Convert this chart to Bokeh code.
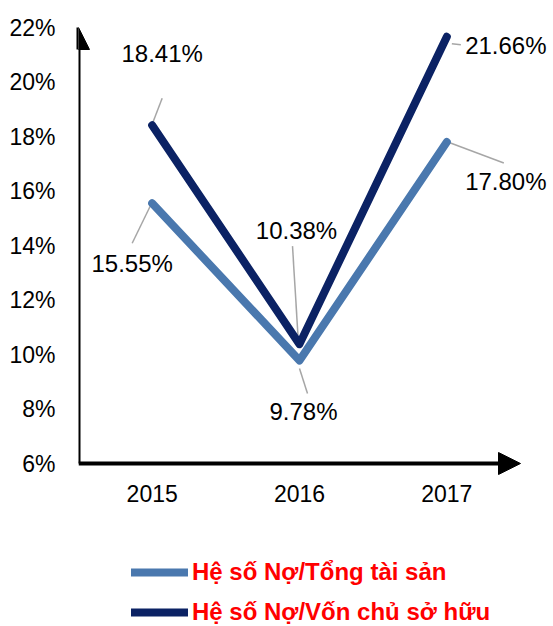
from bokeh.plotting import figure
from bokeh.models import Range1d, Arrow, NormalHead, Legend, LegendItem, FixedTicker, ColumnDataSource
from bokeh.core.properties import value
from bokeh.embed import file_html
from bokeh.resources import INLINE

years = [2015, 2016, 2017]
year_labels = ["2015", "2016", "2017"]
debt_assets = [15.55, 9.78, 17.80]
debt_equity = [18.41, 10.38, 21.66]
name_assets = "Hệ số Nợ/Tổng tài sản"
name_equity = "Hệ số Nợ/Vốn chủ sở hữu"
y_ticks = [6, 8, 10, 12, 14, 16, 18, 20, 22]

LIGHT = "#4A78AE"
DARK = "#0B2264"
FONT = "Liberation Sans"

W, H = 553, 626
LEFT, TOP = 78, 19
X0, XA, Y0, YA = 2014.5, 2017.5, 6, 22   # axis extents (arrows)
pxx = 442 / (XA - X0)
pxy = 436 / (YA - Y0)
FW, FH = W - LEFT, H - TOP
X1 = X0 + FW / pxx
Y1 = YA + 8 / pxy
Y0r = Y1 - FH / pxy

p = figure(width=W, height=H, output_backend="svg", toolbar_location=None,
           x_range=Range1d(X0, X1), y_range=Range1d(Y0r, Y1),
           min_border_left=LEFT, min_border_right=0, min_border_top=TOP, min_border_bottom=0)
p.outline_line_color = None
p.grid.visible = False
p.xaxis.visible = False

ax = p.yaxis[0]
ax.axis_line_color = None
ax.major_tick_line_color = None
ax.minor_tick_line_color = None
ax.major_tick_out = 0
ax.major_tick_in = 0
ax.major_label_text_font = FONT
ax.major_label_text_font_size = "23px"
ax.major_label_text_color = "black"
ax.ticker = FixedTicker(ticks=y_ticks)
ax.major_label_overrides = {t: f"{t}%" for t in y_ticks}
ax.major_label_standoff = 23

# category labels under the x axis
p.text(x=years, y=[Y0] * 3, text=year_labels, y_offset=30,
       text_font=value(FONT), text_font_size="23px", text_color="black",
       text_align="center", text_baseline="middle")

# leader lines (pixel offsets from each point, converted to data units)
lead = {
    "equity": [((10, -27), (0, -1)), ((-7, -98), (-1, 0)), ((14, 8), (5, 7))],
    "assets": [((-20, 40), (-2, 3)), ((8, 33), (0, 8)), ((57, 21), (1, 0))],
}
for key, vals in (("equity", debt_equity), ("assets", debt_assets)):
    xs0, ys0, xs1, ys1 = [], [], [], []
    for x, yv, (s, e) in zip(years, vals, lead[key]):
        xs0.append(x + s[0] / pxx); ys0.append(yv - s[1] / pxy)
        xs1.append(x + e[0] / pxx); ys1.append(yv - e[1] / pxy)
    p.segment(xs0, ys0, xs1, ys1, line_color="#A6A6A6", line_width=1.5)

r_assets = p.line(years, debt_assets, line_color=LIGHT, line_width=8, line_cap="round", line_join="round")
r_equity = p.line(years, debt_equity, line_color=DARK, line_width=8, line_cap="round", line_join="round")

# data labels
src_e = ColumnDataSource(dict(x=years, y=debt_equity, t=[f"{v:.2f}%" for v in debt_equity],
                              dx=[10, -3, 59], dy=[-72, -114, 9]))
src_a = ColumnDataSource(dict(x=years, y=debt_assets, t=[f"{v:.2f}%" for v in debt_assets],
                              dx=[-20, 4, 59], dy=[60, 51, 40]))
for src in (src_e, src_a):
    p.text(x="x", y="y", text="t", x_offset="dx", y_offset="dy", source=src,
           text_font=value(FONT), text_font_size="24px", text_color="black",
           text_align="center", text_baseline="middle")

# axis arrows
p.add_layout(Arrow(x_start=X0, y_start=Y0, x_end=X0, y_end=YA, line_width=4, line_color="black",
                   end=NormalHead(size=22, fill_color="black", line_color="black")))
p.add_layout(Arrow(x_start=X0, y_start=Y0, x_end=XA, y_end=Y0, line_width=4, line_color="black",
                   end=NormalHead(size=22, fill_color="black", line_color="black")))

legend = Legend(items=[LegendItem(label=name_assets, renderers=[r_assets]),
                       LegendItem(label=name_equity, renderers=[r_equity])],
                location=(53, 0), orientation="vertical",
                label_text_font=FONT, label_text_font_size="24px", label_text_font_style="bold",
                label_text_color="#FF0000", glyph_width=57, glyph_height=20, label_height=20,
                label_standoff=4, spacing=12, padding=0, margin=0,
                border_line_color=None, background_fill_alpha=0)
p.add_layout(legend, "center")

open("out.html", "w").write(file_html(p, INLINE))
